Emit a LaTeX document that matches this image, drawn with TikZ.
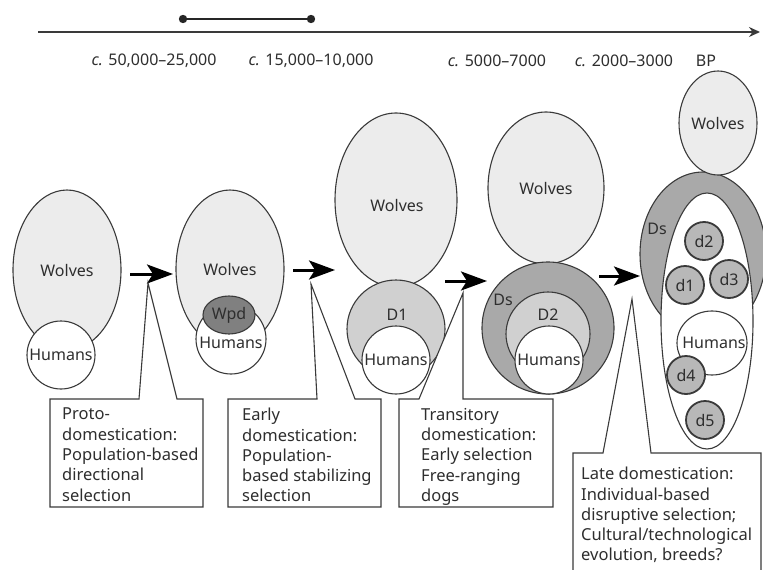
\documentclass[tikz,border=0pt]{standalone}
\usepackage{fontspec}
\setmainfont{Noto Sans}
\usetikzlibrary{shapes.geometric,arrows.meta}
\definecolor{linec}{HTML}{3A3A3A}
\definecolor{textc}{HTML}{2E2E2E}
\definecolor{wolfc}{HTML}{ECECEC}
\definecolor{donec}{HTML}{D0D0D0}
\definecolor{dsc}{HTML}{A9A9A9}
\definecolor{wpdc}{HTML}{808080}
\definecolor{dsmc}{HTML}{B8B8B8}
\begin{document}
\begin{tikzpicture}[x=1pt,y=-1pt,
  shp/.style={draw=linec, line width=1.1pt, inner sep=0pt, ellipse},
  wolf/.style={shp, fill=wolfc},
  hum/.style={shp, fill=white},
  dom/.style={shp, fill=donec},
  dsbig/.style={shp, fill=dsc},
  dsmall/.style={shp, fill=dsmc, line width=1.8pt, minimum width=38pt, minimum height=38pt},
  lbl/.style={inner sep=0pt, text=textc, font=\fontsize{16}{19}\selectfont},
  bigarrow/.style={draw=black, line width=3pt, -{Stealth[length=26pt,width=19pt,inset=6pt]}},
  callout/.style={draw=linec, line width=1.1pt, fill=white},
  boxtext/.style={inner sep=0pt, anchor=north west, align=left, text=textc, font=\fontsize{16.5}{20.3}\selectfont}
]
\useasboundingbox (0,0) rectangle (763,570);
\clip (0,0) rectangle (763,570);

% timeline
\coordinate (t0) at (38,32);
\coordinate (t1) at (760,32);
\draw[linec, line width=1.5pt, -{Stealth[length=11pt,width=10pt]}] (t0) -- (t1);
\coordinate (s0) at (183,19);
\coordinate (s1) at (311,19);
\draw[black!85, line width=2pt] (s0) -- (s1);
\fill[black!85] (s0) circle (4.2pt) (s1) circle (4.2pt);
\node[lbl] (l1) at (154,61) {\textit{c.} 50,000–25,000};
\node[lbl] (l2) at (311,61) {\textit{c.} 15,000–10,000};
\node[lbl] (l3) at (497,61) {\textit{c.} 5000–7000};
\node[lbl] (l4) at (624,61) {\textit{c.} 2000–3000};
\node[lbl] (l5) at (706,61) {BP};

% stage 1
\node[wolf, minimum width=108pt, minimum height=160pt] (w1) at (67,270) {};
\node[lbl] at (w1) {Wolves};
\node[hum, minimum width=68pt, minimum height=68pt] (h1) at (61,355) {};
\node[lbl] at (h1) {Humans};

% stage 2
\node[wolf, minimum width=108pt, minimum height=158pt] (w2) at (230,269) {};
\node[lbl] at (w2) {Wolves};
\node[hum, minimum width=70pt, minimum height=70pt] (h2) at (231,339) {};
\node[lbl] (h2t) at (231,343) {Humans};
\node[shp, fill=wpdc, minimum width=52pt, minimum height=38pt] (wpd) at (229,315) {};
\node[lbl] at (wpd) {Wpd};

% stage 3
\node[wolf, minimum width=122pt, minimum height=174pt] (w3) at (396,200) {};
\node[lbl] (w3t) at (397,205) {Wolves};
\node[dom, minimum width=98pt, minimum height=98pt] (d1big) at (396,329) {};
\node[lbl] (d1t) at (397,315) {D1};
\node[hum, minimum width=68pt, minimum height=68pt] (h3) at (396,360) {};
\node[lbl] at (h3) {Humans};

% stage 4
\node[wolf, minimum width=116pt, minimum height=152pt] (w4) at (546,188) {};
\node[lbl] at (w4) {Wolves};
\node[dsbig, minimum width=132pt, minimum height=132pt] (ds4) at (548,328) {};
\node[lbl] (ds4t) at (503,300) {Ds};
\node[dom, minimum width=84pt, minimum height=84pt] (d2big) at (548,334) {};
\node[lbl] (d2t) at (548,315) {D2};
\node[hum, minimum width=68pt, minimum height=68pt] (h4) at (549,360) {};
\node[lbl] at (h4) {Humans};

% stage 5
\node[dsbig, minimum width=126pt, minimum height=164pt] (ds5) at (703,254) {};
\node[hum, minimum width=92pt, minimum height=256pt] (in5) at (707,321) {};
\node[lbl] (ds5t) at (657,229) {Ds};
\node[wolf, minimum width=78pt, minimum height=104pt] (w5) at (718,123) {};
\node[lbl] at (w5) {Wolves};
\node[hum, minimum width=70pt, minimum height=64pt] (h5) at (712,343) {};
\node[lbl] at (714,343) {Humans};
\node[dsmall] (sd2) at (704,241) {};
\node[lbl] at (sd2) {d2};
\node[dsmall] (sd1) at (685,285) {};
\node[lbl] at (sd1) {d1};
\node[dsmall] (sd3) at (729,279) {};
\node[lbl] at (sd3) {d3};
\node[dsmall] (sd4) at (686,375) {};
\node[lbl] at (sd4) {d4};
\node[dsmall] (sd5) at (705,420) {};
\node[lbl] at (sd5) {d5};

% arrows
\coordinate (a1s) at (130,274); \coordinate (a1e) at (173,274);
\coordinate (a2s) at (293,270); \coordinate (a2e) at (335,270);
\coordinate (a3s) at (445,281); \coordinate (a3e) at (487,281);
\coordinate (a4s) at (599,276); \coordinate (a4e) at (640,276);
\draw[bigarrow] (a1s) -- (a1e);
\draw[bigarrow] (a2s) -- (a2e);
\draw[bigarrow] (a3s) -- (a3e);
\draw[bigarrow] (a4s) -- (a4e);

% callouts
\draw[callout] (50,399) -- (139,399) -- (148,283) -- (177,399) -- (203,399) -- (203,507) -- (50,507) -- cycle;
\node[boxtext] (b1) at (62,408) {Proto-\\domestication:\\Population-based\\directional\\selection};

\draw[callout] (228,399) -- (317,399) -- (311,284) -- (355,399) -- (381,399) -- (381,507) -- (228,507) -- cycle;
\node[boxtext] (b2) at (242,408) {Early\\domestication:\\Population-\\based stabilizing\\selection};

\draw[callout] (399,399) -- (419,399) -- (463,293) -- (463,399) -- (553,399) -- (553,507) -- (399,507) -- cycle;
\node[boxtext] (b3) at (421,408) {Transitory\\domestication:\\Early selection\\Free-ranging\\dogs};

\draw[callout] (573,453) -- (603,453) -- (632,299) -- (651,453) -- (761,453) -- (761,600) -- (573,600) -- cycle;
\node[boxtext] (b4) at (581,467) {Late domestication:\\Individual-based\\disruptive selection;\\Cultural/technological\\evolution, breeds?};
\end{tikzpicture}
\end{document}
